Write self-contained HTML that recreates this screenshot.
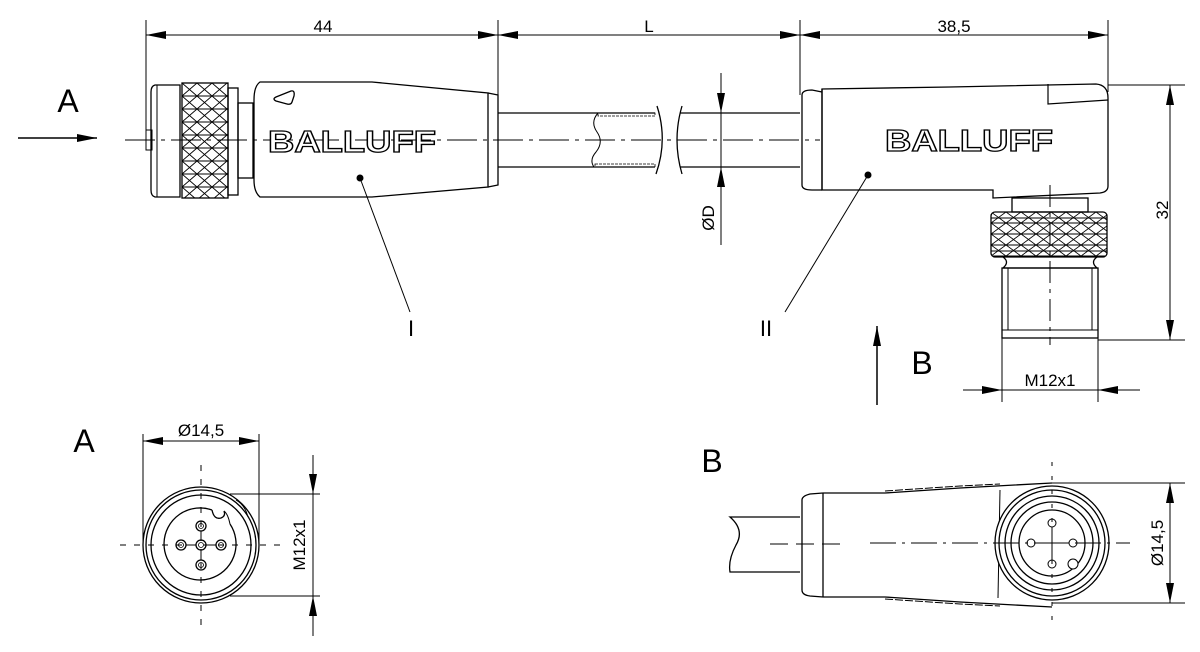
<!DOCTYPE html>
<html><head><meta charset="utf-8"><style>html,body{margin:0;padding:0;background:#fff}svg{display:block}text{font-family:"Liberation Sans",sans-serif;fill:#000}</style></head><body>
<svg width="1200" height="652" viewBox="0 0 1200 652" xmlns="http://www.w3.org/2000/svg">
<defs>
<marker id="ar" viewBox="0 0 20 8" refX="20" refY="4" markerWidth="20" markerHeight="8" markerUnits="userSpaceOnUse" orient="auto-start-reverse"><path d="M0,0 L20,4 L0,8 z" fill="#000"/></marker>
<pattern id="kn" x="182" y="83" width="15" height="13" patternUnits="userSpaceOnUse"><path d="M0,0 L15,13 M15,0 L0,13 M0,0 L15,0 M0,13 L15,13" fill="none" stroke="#000" stroke-width="0.9"/></pattern>
<pattern id="kn2" x="991" y="212" width="15" height="11" patternUnits="userSpaceOnUse"><path d="M0,0 L15,11 M15,0 L0,11 M0,0 L15,0 M0,11 L15,11" fill="none" stroke="#000" stroke-width="0.9"/></pattern>
</defs>
<g fill="none" stroke="#000" stroke-width="1.3">
<line x1="146" y1="20" x2="146" y2="140" stroke-width="1"/>
<line x1="498" y1="20" x2="498" y2="95" stroke-width="1"/>
<line x1="800" y1="20" x2="800" y2="95" stroke-width="1"/>
<line x1="1108" y1="20" x2="1108" y2="92" stroke-width="1"/>
<line x1="146" y1="35" x2="498" y2="35" marker-start="url(#ar)" marker-end="url(#ar)" stroke-width="1"/>
<line x1="498" y1="35" x2="800" y2="35" marker-start="url(#ar)" marker-end="url(#ar)" stroke-width="1"/>
<line x1="800" y1="35" x2="1108" y2="35" marker-start="url(#ar)" marker-end="url(#ar)" stroke-width="1"/>
<line x1="18" y1="138" x2="97" y2="138" marker-end="url(#ar)" stroke-width="1.5"/>
<rect x="146" y="130" width="6" height="20" stroke-width="1"/>
<path d="M155,85 L180,85 L180,197 L155,197 Q151,196 151,190 L151,92 Q151,86 155,85 Z"/>
<line x1="157" y1="85" x2="157" y2="197" stroke-width="1"/>
<rect x="182" y="83" width="46" height="115" fill="url(#kn)"/>
<rect x="228" y="88" width="10" height="107"/>
<rect x="238" y="103" width="15" height="75"/>
<path d="M260,82 L372,82 L488,93 L488,187 L372,197 L260,197 Q254,192 254,180 L254,100 Q254,86 260,82 Z"/>
<path d="M488,93 L498,95 L498,185 L488,187"/>
<path d="M276,97 L291,91 Q295,90 294,96 L292,102 Q291,105 287,104 L276,101 Q272,99 276,97 Z" stroke-width="1.3"/>
<line x1="498" y1="113" x2="655" y2="113"/>
<line x1="498" y1="167" x2="655" y2="167"/>
<line x1="680" y1="113" x2="800" y2="113"/>
<line x1="680" y1="167" x2="800" y2="167"/>
<path d="M657,106 Q668,140 656,174"/><path d="M682,106 Q672,140 682,174"/>
<path d="M598,113 Q590,122 597,132 Q604,142 596,152 Q589,160 594,167" stroke-width="1"/>
<rect x="598" y="113" width="57" height="3" stroke-width="0.8" stroke-dasharray="3,1"/>
<rect x="595" y="164" width="60" height="3" stroke-width="0.8" stroke-dasharray="3,1"/>
<line x1="721" y1="73" x2="721" y2="113" marker-end="url(#ar)" stroke-width="1"/>
<line x1="721" y1="245" x2="721" y2="167" marker-end="url(#ar)" stroke-width="1"/>
<line x1="721" y1="113" x2="721" y2="167" stroke-width="1"/>
<path d="M822,92 L812,90 Q802,90 802,95 L802,185 Q802,190 812,190 L822,190"/>
<path d="M822,89 L950,87 L1096,84 Q1108,85 1108,98 L1108,186 Q1108,192 1100,193 L993,198 L993,190 L822,190 Z"/>
<line x1="822" y1="89" x2="822" y2="190"/>
<path d="M1048,84 L1048,104 L1108,100" stroke-width="1.2"/>
<rect x="1012" y="198" width="76" height="14"/>
<rect x="991" y="212" width="116" height="45" rx="4" fill="url(#kn2)"/>
<line x1="991" y1="218" x2="1107" y2="218" stroke-width="1"/>
<line x1="991" y1="251" x2="1107" y2="251" stroke-width="1"/>
<path d="M1003,257 Q1010,262 1003,268 L1097,268 Q1090,262 1097,257"/>
<rect x="1002" y="268" width="96" height="70"/>
<line x1="1008" y1="268" x2="1008" y2="330" stroke-width="1"/>
<line x1="1092" y1="268" x2="1092" y2="330" stroke-width="1"/>
<line x1="1002" y1="330" x2="1098" y2="330" stroke-width="1"/>
<line x1="1108" y1="85" x2="1185" y2="85" stroke-width="1"/>
<line x1="1098" y1="340" x2="1185" y2="340" stroke-width="1"/>
<line x1="1170" y1="85" x2="1170" y2="340" marker-start="url(#ar)" marker-end="url(#ar)" stroke-width="1"/>
<line x1="1002" y1="338" x2="1002" y2="402" stroke-width="1"/>
<line x1="1098" y1="338" x2="1098" y2="402" stroke-width="1"/>
<line x1="963" y1="390" x2="1002" y2="390" marker-end="url(#ar)" stroke-width="1"/>
<line x1="1140" y1="390" x2="1098" y2="390" marker-end="url(#ar)" stroke-width="1"/>
<line x1="1002" y1="390" x2="1098" y2="390" stroke-width="1"/>
<line x1="877" y1="405" x2="877" y2="326" marker-end="url(#ar)" stroke-width="1.5"/>
<line x1="360" y1="178" x2="410" y2="312" stroke-width="1"/>
<line x1="868" y1="175" x2="785" y2="312" stroke-width="1"/>
<line x1="125" y1="140" x2="820" y2="140" stroke-width="1" stroke-dasharray="30,6,4,6"/>
<line x1="1050" y1="185" x2="1050" y2="345" stroke-width="1" stroke-dasharray="22,6,4,6"/>
<line x1="143" y1="434" x2="143" y2="545" stroke-width="1"/>
<line x1="259" y1="434" x2="259" y2="545" stroke-width="1"/>
<line x1="143" y1="441" x2="259" y2="441" marker-start="url(#ar)" marker-end="url(#ar)" stroke-width="1"/>
<circle cx="201" cy="545" r="58"/><circle cx="201" cy="545" r="55"/><circle cx="201" cy="545" r="50"/>
<path d="M212,510 A36,36 0 1 0 230,524" />
<path d="M212,510 Q214,520 221,518 Q226,516 224,511" />
<path d="M224,511 Q228,514 230,524" stroke-width="1"/>
<path d="M236,500 Q245,505 248,517" stroke-width="1"/>
<line x1="201" y1="525" x2="201" y2="566" stroke-width="1"/>
<line x1="181" y1="545" x2="221" y2="545" stroke-width="1"/>
<g fill="#fff"><circle cx="201" cy="526" r="5"/><circle cx="201" cy="545" r="5"/><circle cx="201" cy="565" r="5"/><circle cx="181" cy="545" r="5"/><circle cx="221" cy="545" r="5"/></g>
<g stroke-width="0.8"><circle cx="201" cy="526" r="2.5"/><circle cx="201" cy="545" r="2.5"/><circle cx="201" cy="565" r="2.5"/><circle cx="181" cy="545" r="2.5"/><circle cx="221" cy="545" r="2.5"/></g>
<line x1="120" y1="545" x2="280" y2="545" stroke-width="1" stroke-dasharray="6,8"/>
<line x1="201" y1="465" x2="201" y2="625" stroke-width="1" stroke-dasharray="6,8"/>
<line x1="230" y1="494" x2="320" y2="494" stroke-width="1"/>
<line x1="230" y1="596" x2="320" y2="596" stroke-width="1"/>
<line x1="313" y1="455" x2="313" y2="494" marker-end="url(#ar)" stroke-width="1"/>
<line x1="313" y1="636" x2="313" y2="596" marker-end="url(#ar)" stroke-width="1"/>
<line x1="313" y1="494" x2="313" y2="596" stroke-width="1"/>
<path d="M800,517 L730,517 Q745,530 736,545 Q728,560 730,572 L800,572"/>
<path d="M823,493 L810,494 Q802,496 802,500 L802,590 Q802,595 810,596 L823,597"/>
<line x1="823" y1="493" x2="823" y2="597"/>
<path d="M823,493 L885,493 L960,488 L1052,483"/>
<path d="M823,597 L885,597 L960,602 L1052,607"/>
<path d="M885,491 L960,486 L1000,484" stroke-width="1" stroke-dasharray="8,2"/>
<path d="M885,599 L960,604 L1000,606" stroke-width="1" stroke-dasharray="8,2"/>
<line x1="1000" y1="490" x2="998" y2="598" stroke-width="1"/>
<circle cx="1052" cy="543" r="57" fill="#fff"/><circle cx="1052" cy="543" r="53"/><circle cx="1052" cy="543" r="47"/><circle cx="1052" cy="543" r="41"/><circle cx="1052" cy="543" r="33"/>
<line x1="1052" y1="523" x2="1052" y2="563" stroke-width="1"/>
<line x1="1032" y1="543" x2="1072" y2="543" stroke-width="1"/>
<g fill="#fff" stroke-width="1"><circle cx="1052" cy="523" r="4"/><circle cx="1052" cy="564" r="4"/><circle cx="1031" cy="543" r="4"/><circle cx="1073" cy="543" r="4"/><circle cx="1073" cy="564" r="5"/></g>
<line x1="1052" y1="483" x2="1185" y2="483" stroke-width="1"/>
<line x1="1052" y1="603" x2="1185" y2="603" stroke-width="1"/>
<line x1="1170" y1="483" x2="1170" y2="603" marker-start="url(#ar)" marker-end="url(#ar)" stroke-width="1"/>
<line x1="870" y1="543" x2="1130" y2="543" stroke-width="1" stroke-dasharray="26,6,3,6"/>
<line x1="770" y1="544" x2="840" y2="544" stroke-width="1" stroke-dasharray="18,8"/>
<line x1="1052" y1="462" x2="1052" y2="628" stroke-width="1" stroke-dasharray="4,10"/>
</g>
<g fill="#000"><circle cx="360" cy="178" r="3.5"/><circle cx="868" cy="175" r="3.5"/></g>
<text x="323" y="32" font-size="17" text-anchor="middle">44</text>
<text x="649" y="32" font-size="17" text-anchor="middle">L</text>
<text x="954" y="32" font-size="17" text-anchor="middle">38,5</text>
<text x="68" y="112" font-size="32" text-anchor="middle">A</text>
<text x="922" y="374" font-size="32" text-anchor="middle">B</text>
<text x="84" y="452" font-size="32" text-anchor="middle">A</text>
<text x="712" y="472" font-size="32" text-anchor="middle">B</text>
<text x="411" y="336" font-size="22" text-anchor="middle">I</text>
<text x="766" y="336" font-size="22" text-anchor="middle">II</text>
<text x="1050" y="386" font-size="17" text-anchor="middle">M12x1</text>
<text x="201" y="436" font-size="17" text-anchor="middle">Ø14,5</text>
<text transform="translate(1168,210) rotate(-90)" font-size="17" text-anchor="middle">32</text>
<text transform="translate(714,218) rotate(-90)" font-size="17" text-anchor="middle">ØD</text>
<text transform="translate(305,545) rotate(-90)" font-size="17" text-anchor="middle">M12x1</text>
<text transform="translate(1163,543) rotate(-90)" font-size="17" text-anchor="middle">Ø14,5</text>
<text x="268" y="152" font-size="31" font-weight="bold" textLength="168" lengthAdjust="spacingAndGlyphs" style="fill:#fff;stroke:#000;stroke-width:1.3">BALLUFF</text>
<text x="885" y="151" font-size="31" font-weight="bold" textLength="168" lengthAdjust="spacingAndGlyphs" style="fill:#fff;stroke:#000;stroke-width:1.3">BALLUFF</text>
</svg>
</body></html>
